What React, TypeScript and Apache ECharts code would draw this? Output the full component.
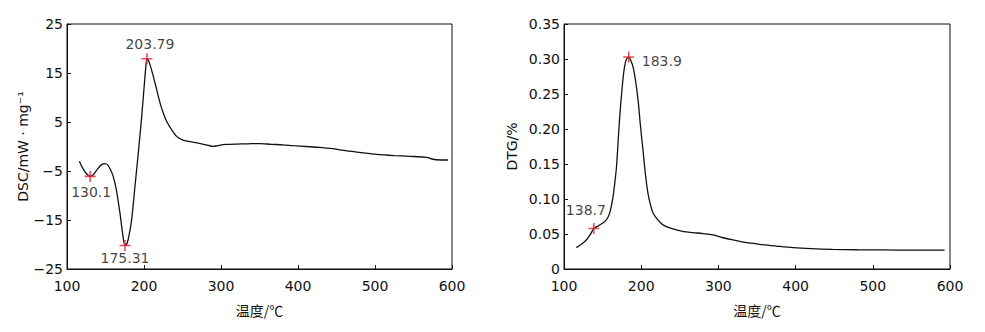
import React, { useEffect, useRef } from "react";
import * as echarts from "echarts";

const dscT = [116, 120, 125, 130.1, 135, 140, 145, 149, 153, 157, 160, 164, 168.8, 172, 175.31, 178, 181, 184, 188.3, 192.6, 197, 200.5, 202.5, 203.79, 205.3, 207.8, 212.1, 216.5, 220.8, 225.1, 229.5, 236, 242.4, 249, 256, 265, 273, 282, 290, 294, 299, 307, 320, 335, 350, 365, 380, 394, 410, 428, 445, 459, 480, 502, 525, 545, 567, 573, 580, 595];
const dscV = [-3.0, -4.3, -5.5, -6.1, -5.6, -4.5, -3.7, -3.5, -3.8, -4.9, -6.1, -8.8, -13.6, -17.5, -20.2, -19.8, -17.8, -14.9, -8.1, -1.3, 6.1, 12.8, 16.5, 17.9, 17.7, 16.7, 14.3, 11.6, 8.9, 6.8, 5.1, 3.4, 2.06, 1.4, 1.1, 0.85, 0.6, 0.3, 0.02, 0.1, 0.3, 0.43, 0.5, 0.55, 0.6, 0.45, 0.35, 0.16, 0.0, -0.18, -0.45, -0.8, -1.2, -1.6, -1.85, -2.0, -2.2, -2.5, -2.7, -2.75];

const dtgT = [116, 122, 129, 135, 138.7, 145, 152.7, 157, 160, 163.5, 166, 168, 170, 172.2, 175, 177.3, 180, 183.9, 186.5, 189.4, 192.5, 195.9, 199, 202.3, 205.5, 208.8, 212, 215.3, 221, 228.2, 236, 245.6, 255, 267, 280, 293, 305, 319, 335, 353.5, 375, 396.6, 420, 448, 480, 513, 550, 593];
const dtgV = [0.0305, 0.035, 0.0415, 0.051, 0.058, 0.062, 0.0677, 0.074, 0.083, 0.103, 0.125, 0.146, 0.18, 0.218, 0.255, 0.28, 0.297, 0.303, 0.298, 0.289, 0.27, 0.242, 0.205, 0.17, 0.135, 0.108, 0.092, 0.08, 0.071, 0.063, 0.059, 0.0558, 0.0535, 0.052, 0.0505, 0.0486, 0.045, 0.0415, 0.038, 0.0353, 0.0328, 0.0305, 0.029, 0.028, 0.0275, 0.0272, 0.027, 0.027];

const dscPeakT = [130.1, 175.31, 203.79];
const dscPeakV = [-6.1, -20.2, 17.9];
const dscPeakLabels = ["130.1", "175.31", "203.79"];
const dtgPeakT = [138.7, 183.9];
const dtgPeakV = [0.058, 0.303];
const dtgPeakLabels = ["138.7", "183.9"];

const xTicks = { min: 100, max: 600, interval: 100 };

const FONT = "DejaVu Sans";
const CROSS = "path://M4.3,0h1.4v10h-1.4z M0,4.3h10v1.4h-10z";

export default function App() {
  const ref = useRef<HTMLDivElement>(null);
  useEffect(() => {
    document.body.style.margin = "0";
    const chart = echarts.init(ref.current!, null, { renderer: "svg" });
    const textStyle = { fontFamily: FONT, fontSize: 14, color: "#111" };
    const axisLine = { show: true, onZero: false, lineStyle: { color: "#111", width: 1 } };
    const axisTick = { show: true, inside: true, length: 4, lineStyle: { color: "#111" } };
    const xAxisBase = (gridIndex: number) => ({
      type: "value",
      gridIndex,
      min: xTicks.min,
      max: xTicks.max,
      interval: xTicks.interval,
      name: "温度/℃",
      nameLocation: "middle",
      nameGap: 34,
      nameTextStyle: { ...textStyle, fontFamily: "Noto Sans CJK SC", fontSize: 14 },
      axisLine,
      axisTick,
      splitLine: { show: false },
      axisLabel: { ...textStyle, margin: 10 },
    });
    const dscOffsets: [number, number][] = [[1, 16], [0, 13], [3, -15]];
    const dtgOffsets: [number, number][] = [[-8, -18], [33, 4]];
    chart.setOption({
      animation: false,
      textStyle,
      grid: [
        { left: 67, top: 24, width: 385, height: 245, show: true, borderColor: "#111", borderWidth: 1 },
        { left: 564, top: 24, width: 386, height: 245, show: true, borderColor: "#111", borderWidth: 1 },
      ],
      xAxis: [xAxisBase(0), xAxisBase(1)],
      yAxis: [
        {
          type: "value",
          gridIndex: 0,
          min: -25,
          max: 25,
          interval: 10,
          name: "DSC/mW · mg⁻¹",
          nameLocation: "middle",
          nameGap: 33,
          nameTextStyle: textStyle,
          axisLine,
          axisTick,
          splitLine: { show: false },
          axisLabel: { ...textStyle, margin: 4, formatter: (v: number) => String(v).replace("-", "−") },
        },
        {
          type: "value",
          gridIndex: 1,
          min: 0,
          max: 0.35,
          interval: 0.05,
          name: "DTG/%",
          nameLocation: "middle",
          nameGap: 45,
          nameTextStyle: textStyle,
          axisLine,
          axisTick,
          splitLine: { show: false },
          axisLabel: { ...textStyle, margin: 4, formatter: (v: number) => (v === 0 ? "0" : v.toFixed(2)) },
        },
      ],
      series: [
        {
          type: "line",
          xAxisIndex: 0,
          yAxisIndex: 0,
          data: dscT.map((t, i) => [t, dscV[i]]),
          smooth: 0.25,
          showSymbol: false,
          lineStyle: { color: "#111", width: 1.3 },
        },
        {
          type: "line",
          xAxisIndex: 1,
          yAxisIndex: 1,
          data: dtgT.map((t, i) => [t, dtgV[i]]),
          smooth: 0.3,
          showSymbol: false,
          lineStyle: { color: "#111", width: 1.3 },
        },
        {
          type: "scatter",
          xAxisIndex: 0,
          yAxisIndex: 0,
          symbol: CROSS,
          symbolSize: 11,
          itemStyle: { color: "#e3202a" },
          z: 5,
          data: dscPeakT.map((t, i) => ({
            value: [t, dscPeakV[i]],
            label: {
              show: true,
              position: "inside",
              offset: dscOffsets[i],
              formatter: dscPeakLabels[i],
              ...textStyle,
            },
          })),
        },
        {
          type: "scatter",
          xAxisIndex: 1,
          yAxisIndex: 1,
          symbol: CROSS,
          symbolSize: 11,
          itemStyle: { color: "#e3202a" },
          z: 5,
          data: dtgPeakT.map((t, i) => ({
            value: [t, dtgPeakV[i]],
            label: {
              show: true,
              position: "inside",
              offset: dtgOffsets[i],
              formatter: dtgPeakLabels[i],
              ...textStyle,
            },
          })),
        },
      ],
    });
    return () => chart.dispose();
  }, []);
  return <div ref={ref} style={{ width: 985, height: 332 }} />;
}
